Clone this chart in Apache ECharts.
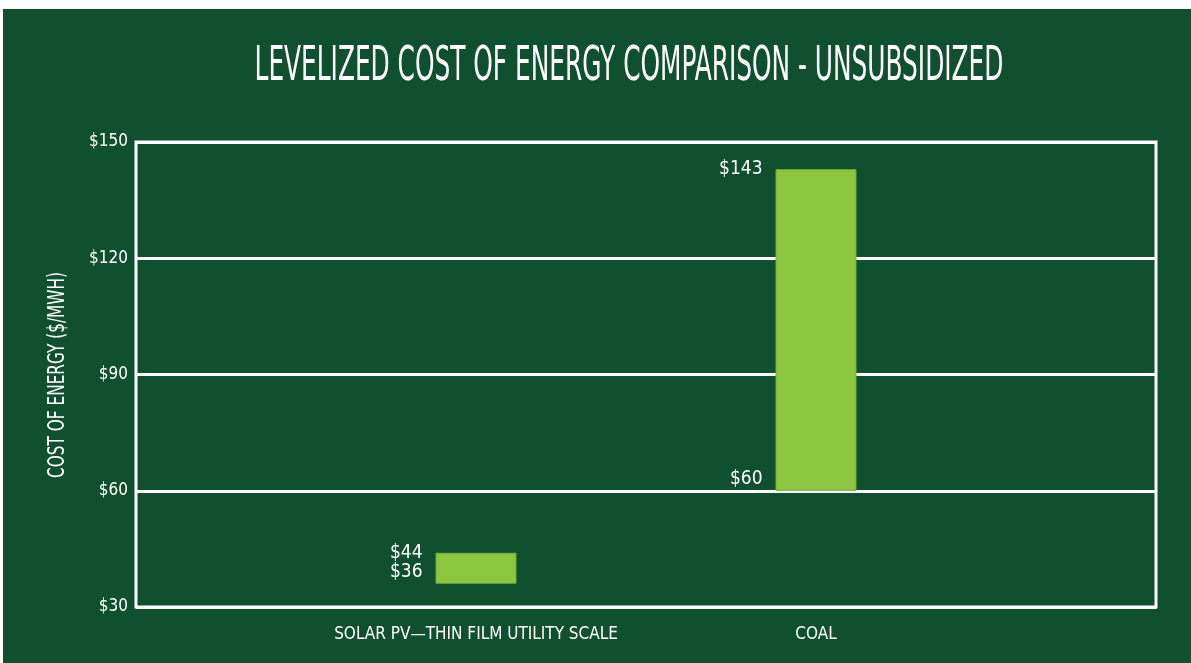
<!DOCTYPE html>
<html>
<head>
<meta charset="utf-8">
<script src="https://cdn.jsdelivr.net/npm/echarts@6/dist/echarts.min.js"></script>
<style>
  html, body { margin: 0; padding: 0; background: #fff; }
  #main { position: absolute; left: 3px; top: 9px; width: 1188px; height: 654px; }
</style>
</head>
<body>
<div id="main"></div>
<script>
// categories (blank ones pad the axis ends)
const categories = ["", "SOLAR PV\u2014THIN FILM UTILITY SCALE", "COAL", ""];
const lowValues = ["-", 36, 60, "-"];
const highValues = ["-", 44, 143, "-"];
const yTicks = [30, 60, 90, 120, 150];
const titleText = "LEVELIZED COST OF ENERGY COMPARISON - UNSUBSIDIZED";
const yAxisTitle = "COST OF ENERGY ($/MWH)";

const FONT = "'DejaVu Sans Condensed', 'DejaVu Sans', sans-serif";
const BG = "#11502f";

var myChart = echarts.init(document.getElementById("main"));

const rangeData = highValues.map((h, i) => (h === "-" ? "-" : h - lowValues[i]));

const option = {
  backgroundColor: BG,
  animation: false,
  // title and axis name drawn as squeezed text to mimic the condensed typeface
  graphic: [
    {
      type: "text",
      x: 626,
      y: 59,
      scaleX: 0.575,
      style: {
        text: titleText,
        fill: "#fff",
        font: "48px " + FONT,
        textAlign: "center",
        textVerticalAlign: "middle",
      },
    },
    {
      type: "text",
      x: 55,
      y: 366,
      rotation: Math.PI / 2,
      scaleX: 0.74,
      style: {
        text: yAxisTitle,
        fill: "#fff",
        font: "23px " + FONT,
        textAlign: "center",
        textVerticalAlign: "middle",
      },
    },
  ],
  grid: {
    left: 133,
    right: 35,
    top: 133,
    bottom: 56,
    show: true,
    borderColor: "#fff",
    borderWidth: 3,
    backgroundColor: "transparent",
  },
  xAxis: {
    type: "category",
    data: categories,
    boundaryGap: false,
    axisLine: { show: false },
    axisTick: { show: false },
    axisLabel: {
      interval: 0,
      hideOverlap: false,
      color: "#fff",
      fontFamily: FONT,
      fontSize: 17,
      margin: 19,
    },
  },
  yAxis: {
    type: "value",
    min: yTicks[0],
    max: yTicks[yTicks.length - 1],
    interval: 30,
    axisLine: { show: false },
    axisTick: { show: false },
    splitLine: { show: true, lineStyle: { color: "#fff", width: 3 } },
    axisLabel: {
      color: "#fff",
      fontFamily: FONT,
      fontSize: 17,
      margin: 8,
      formatter: (v) => "$" + v,
    },
  },
  series: [
    {
      name: "base",
      type: "bar",
      stack: "lcoe",
      barWidth: 81,
      data: lowValues,
      itemStyle: { color: "transparent" },
      label: {
        show: true,
        position: [-13, -2],
        align: "right",
        verticalAlign: "bottom",
        color: "#fff",
        fontFamily: FONT,
        fontSize: 19,
        formatter: (p) => "$" + p.value,
      },
      z: 3,
    },
    {
      name: "range",
      type: "bar",
      stack: "lcoe",
      barWidth: 81,
      data: rangeData,
      itemStyle: { color: "#8dc63f", borderColor: "#74ac3a", borderWidth: 1 },
      label: {
        show: true,
        position: [-13, 0],
        align: "right",
        verticalAlign: "middle",
        color: "#fff",
        fontFamily: FONT,
        fontSize: 19,
        formatter: (p) => "$" + highValues[p.dataIndex],
      },
      z: 3,
    },
  ],
};

myChart.setOption(option);
</script>
</body>
</html>
